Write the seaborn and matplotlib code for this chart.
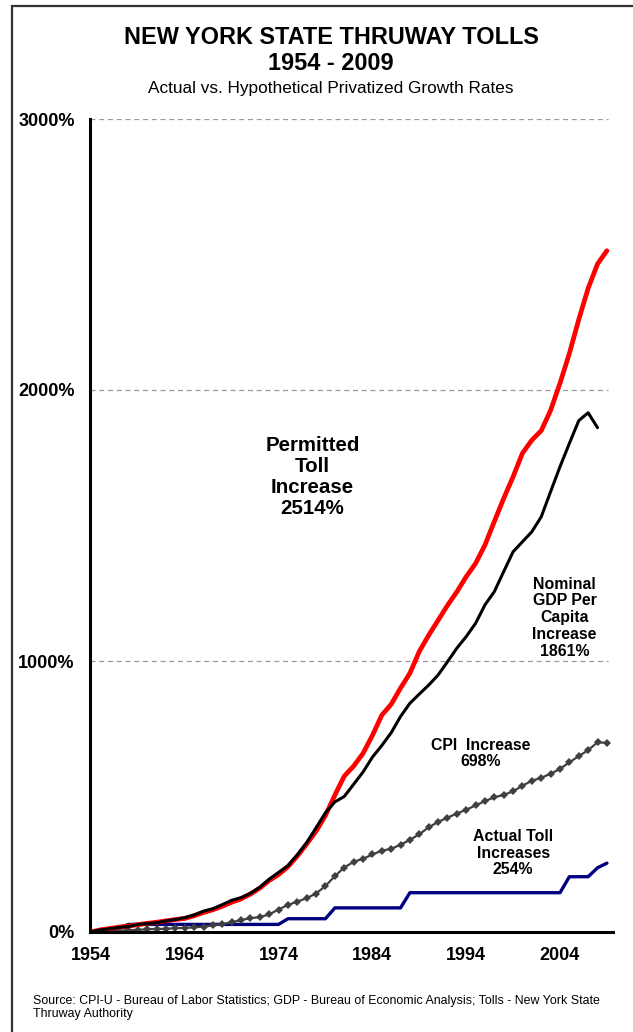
import numpy as np
import pandas as pd
import seaborn as sns
import matplotlib.pyplot as plt
from matplotlib.patches import Rectangle

# Cumulative increase since 1954, in percent
years = list(range(1954, 2010))

permitted_toll = [0, 8, 13, 18, 22, 27, 32, 36, 41, 46,
                  50, 60, 72, 82, 95, 110, 122, 140, 162, 190,
                  212, 241, 280, 325, 372, 430, 505, 575, 612, 659,
                  725, 800, 840, 900, 955, 1035, 1095, 1150, 1205, 1255,
                  1311, 1360, 1428, 1515, 1600, 1680, 1767, 1815, 1850, 1925,
                  2025, 2135, 2260, 2375, 2465, 2514]

gdp_per_capita = [0, 8, 12, 17, 20, 28, 31, 34, 41, 46,
                  53, 63, 77, 86, 101, 117, 127, 143, 165, 195,
                  220, 245, 285, 330, 385, 440, 480, 500, 545, 590,
                  645, 688, 735, 795, 844, 878, 911, 948, 997, 1047,
                  1090, 1139, 1207, 1256, 1330, 1403, 1440, 1477, 1532, 1625,
                  1717, 1803, 1887, 1916, 1861, np.nan]

cpi = [0, 0, 1, 4, 7, 8, 10, 11, 12, 14,
       15, 17, 20, 24, 29, 36, 44, 51, 55, 65,
       83, 100, 112, 125, 142, 170, 206, 238, 259, 270,
       286, 300, 307, 322, 340, 361, 386, 406, 422, 437,
       451, 467, 483, 497, 506, 519, 540, 558, 569, 584,
       602, 626, 649, 671, 700, 698]

actual_toll = [0, 0, 0, 14, 28, 28, 28, 28, 28, 28,
               28, 28, 28, 28, 28, 28, 28, 28, 28, 28,
               28, 49, 49, 49, 49, 49, 89, 89, 89, 89,
               89, 89, 89, 89, 145, 145, 145, 145, 145, 145,
               145, 145, 145, 145, 145, 145, 145, 145, 145, 145,
               145, 204, 204, 204, 237, 254]

df = pd.DataFrame({"year": years, "permitted": permitted_toll, "gdp": gdp_per_capita,
                   "cpi": cpi, "toll": actual_toll})

sns.set_style("white")
plt.rcParams["font.family"] = ["Liberation Sans", "DejaVu Sans"]
plt.rcParams["text.color"] = "black"

fig = plt.figure(figsize=(6.33, 10.32), dpi=100)
ax = fig.add_axes([90 / 633, 100 / 1032, 523 / 633, 813 / 1032])

sns.lineplot(data=df, x="year", y="toll", ax=ax, color="#000080", lw=2.4)
sns.lineplot(data=df, x="year", y="cpi", ax=ax, color="#404040", lw=1.6,
             marker="D", markersize=3.6, markeredgewidth=0)
sns.lineplot(data=df, x="year", y="permitted", ax=ax, color="#ff0000", lw=3.4)
sns.lineplot(data=df, x="year", y="gdp", ax=ax, color="black", lw=2.2)

ax.set_xlim(1953.9, 2009.65)
ax.set_ylim(0, 3000)
ax.set_xlabel("")
ax.set_ylabel("")

ax.set_yticks([0, 1000, 2000, 3000])
ax.set_yticklabels(["0%", "1000%", "2000%", "3000%"], fontsize=13, fontweight="bold")
xt = list(range(1954, 2010, 5))
ax.set_xticks(xt)
ax.set_xticklabels([str(y) if (y - 1954) % 10 == 0 else "" for y in xt],
                   fontsize=13, fontweight="bold")
ax.tick_params(axis="both", direction="out", length=5, width=1.4, colors="black", pad=6)

for s in ["top", "right"]:
    ax.spines[s].set_visible(False)
for s in ["left", "bottom"]:
    ax.spines[s].set_linewidth(2.2)
    ax.spines[s].set_color("black")

for g in [1000, 2000, 3000]:
    ax.axhline(g, xmin=0, xmax=0.99, color="#999999", lw=0.9, ls=(0, (4, 3)), zorder=0)

kw = dict(ha="center", va="center", fontweight="bold", color="black")
ax.text(1977.6, 1680, "Permitted\nToll\nIncrease\n2514%", fontsize=14.8, linespacing=1.13, **kw)
ax.text(2004.5, 1160, "Nominal\nGDP Per\nCapita\nIncrease\n1861%", fontsize=11.4, linespacing=1.14, **kw)
ax.text(1995.5, 659, "CPI  Increase\n698%", fontsize=11.4, linespacing=1.15, **kw)
ax.text(1999.0, 291, "Actual Toll\nIncreases\n254%", fontsize=11.4, linespacing=1.15, **kw)

cx = 331 / 633
fig.text(cx, 1 - 37 / 1032, "NEW YORK STATE THRUWAY TOLLS", ha="center", va="center",
         fontsize=16.9, fontweight="bold", color="black")
fig.text(cx, 1 - 63 / 1032, "1954 - 2009", ha="center", va="center",
         fontsize=16.9, fontweight="bold", color="black")
fig.text(cx, 1 - 88 / 1032, "Actual vs. Hypothetical Privatized Growth Rates", ha="center",
         va="center", fontsize=12.4, color="black")
fig.text(33 / 633, 1 - 1007.5 / 1032,
         "Source: CPI-U - Bureau of Labor Statistics; GDP - Bureau of Economic Analysis; Tolls - New York State\nThruway Authority",
         ha="left", va="center", fontsize=8.9, linespacing=1.2, color="black")

fig.add_artist(Rectangle((12 / 633, -0.1), 1.2, (1032 - 6) / 1032 + 0.1,
                         transform=fig.transFigure, fill=False, lw=1.6, edgecolor="#333333"))

fig.savefig("out.png", dpi=100)
